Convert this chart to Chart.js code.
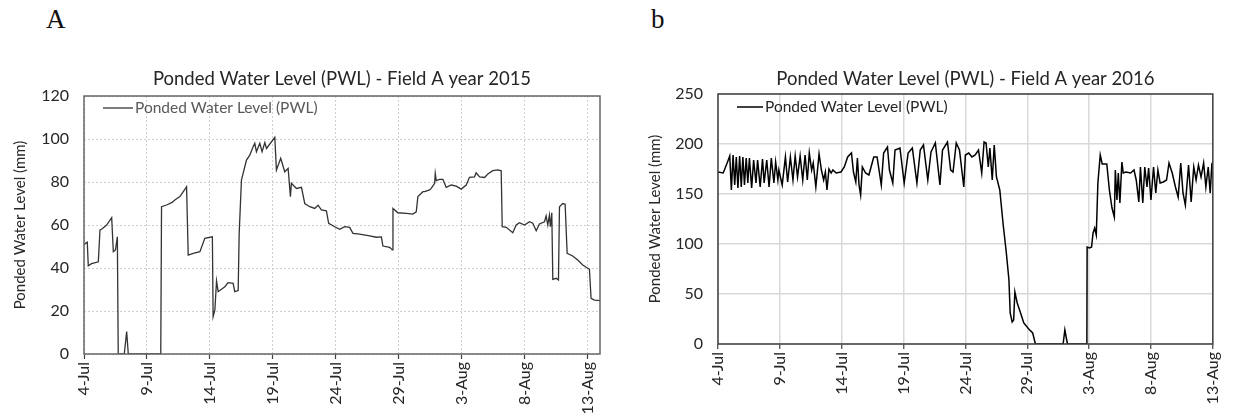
<!DOCTYPE html>
<html>
<head>
<meta charset="utf-8">
<script src="https://cdn.jsdelivr.net/npm/chart.js@4.4.1/dist/chart.umd.min.js"></script>
<style>
  body { margin: 0; background: #fff; width: 1235px; height: 416px; overflow: hidden; position: relative; }
  .panel { position: absolute; }
  .tag { position: absolute; font-family: "Liberation Serif", serif; font-size: 27px; color: #111; }
</style>
</head>
<body>
<div class="tag" style="left:46px; top:4px;">A</div>
<div class="tag" style="left:651px; top:4px;">b</div>
<div class="panel" style="left:0px; top:60px; width:615px; height:356px;"><canvas id="chart2015"></canvas></div>
<div class="panel" style="left:620px; top:58px; width:615px; height:358px;"><canvas id="chart2016"></canvas></div>
<script>
// x = days since 4-Jul, ticks every 5 days
const dayTicks = ['4-Jul', '9-Jul', '14-Jul', '19-Jul', '24-Jul', '29-Jul', '3-Aug', '8-Aug', '13-Aug'];
const seriesLabel = 'Ponded Water Level (PWL)';

// Field A 2015
const day2015 = [0, 0.26, 0.34, 0.6, 1.14, 1.27, 1.4, 1.8, 2.2, 2.33, 2.5, 2.65, 2.72, 3.2, 3.39, 3.52, 6.1, 6.16,
  6.56, 7.0, 7.22, 7.62, 8.0, 8.15, 8.28, 8.68, 9.21, 9.6, 10.2, 10.26, 10.4, 10.53, 10.66, 11.19, 11.45, 11.85,
  11.98, 12.25, 12.33, 12.51, 12.91, 13.17, 13.44, 13.57, 13.7, 13.97, 14.15, 14.37, 14.5, 15.16, 15.29, 15.63,
  15.95, 16.22, 16.4, 16.48, 16.88, 17.28, 17.54, 17.94, 18.33, 18.6, 18.86, 19.26, 19.44, 19.92, 20.32, 20.71,
  21.11, 21.37, 21.9, 22.7, 23.23, 23.63, 23.75, 24.29, 24.5, 24.55, 24.94, 25.61, 26.13, 26.4, 26.53, 26.93,
  27.06, 27.46, 27.59, 27.86, 27.91, 27.99, 28.25, 28.52, 28.78, 29.18, 29.58, 29.97, 30.37, 30.63, 31.03, 31.16,
  31.43, 31.83, 32.09, 32.48, 32.88, 33.15, 33.23, 33.55, 34.07, 34.34, 34.6, 35.0, 35.4, 35.66, 35.93, 36.19,
  36.59, 36.72, 36.85, 36.98, 37.06, 37.17, 37.25, 37.52, 37.7, 37.78, 38.04, 38.23, 38.39, 38.83, 39.23, 39.63,
  40.16, 40.29, 40.56, 41];
const level2015 = [51, 52, 41, 42, 42.9, 57.7, 58, 60, 63.4, 47.6, 48.4, 54.5, 0, 0, 10.4, 0, 0, 68.5,
  69.3, 70.5, 71.6, 73.2, 76.5, 77.8, 46, 46.8, 47.6, 53.8, 54.5, 17.4, 20.5, 34, 29, 31.3, 33.2, 32.9,
  29, 29.5, 56.1, 80.9, 90.2, 92.5, 96.4, 98, 94.1, 98, 94.1, 98.3, 95.6, 100.8, 85.6, 91,
  84.8, 86.3, 73.2, 79.4, 77, 77.5, 70, 68.5, 67.7, 69.2, 67, 66.6, 60.8, 59.2, 58, 59.2,
  58.9, 56.1, 55.8, 54.9, 54.3, 54.5, 50.2, 49.6, 48.4, 67.7, 65.7, 65.4, 65.1, 66.1, 73.2, 75.5,
  75.5, 76.3, 77, 79.4, 84, 80.6, 81.2, 81.2, 77.5, 78.6, 78.1, 76.7, 78.6, 82.2, 82.4, 84.3,
  82.4, 82.1, 83.7, 85.3, 85.6, 85.2, 59.2, 58.9, 56.4, 60, 61.1, 60, 61.5, 60.8, 57.3, 60.5,
  61.5, 64.2, 60, 64.6, 59.2, 65.7, 34.7, 35.2, 34.4, 68.5, 70, 69.7, 46.8, 45.6, 43.7, 41.4,
  39.4, 25.9, 25.1, 24.8];

// Field A 2016
const day2016 = [0, 0.42, 0.77, 0.95, 1.08, 1.22, 1.35, 1.48, 1.61, 1.75, 1.88, 2.01, 2.14, 2.28, 2.41, 2.54, 2.72,
  2.88, 3.07, 3.2, 3.41, 3.6, 3.73, 3.94, 4.13, 4.31, 4.52, 4.66, 4.84, 4.92, 5.19, 5.45, 5.63, 5.85, 6.06, 6.24,
  6.43, 6.64, 6.85, 7.04, 7.22, 7.38, 7.57, 7.7, 7.91, 8.17, 8.36, 8.54, 8.68, 8.81, 8.97, 9.15, 9.29, 9.55, 9.94,
  10.21, 10.48, 10.79, 10.95, 11.14, 11.27, 11.4, 11.53, 11.67, 11.93, 12.2, 12.59, 12.86, 13.2, 13.39, 13.7,
  13.86, 14.13, 14.31, 14.71, 15.05, 15.37, 15.71, 16.08, 16.35, 16.61, 16.96, 17.22, 17.57, 17.94, 18.15, 18.55,
  18.81, 19.0, 19.26, 19.52, 19.87, 20.0, 20.27, 20.53, 20.79, 21.06, 21.32, 21.51, 21.67, 21.85, 21.98, 22.17,
  22.33, 22.51, 22.78, 23.04, 23.31, 23.52, 23.62, 23.78, 23.9, 24.0, 24.19, 24.46, 24.72, 25.12, 25.44, 25.66,
  27.9, 28.04, 28.25, 29.82, 29.84, 30.05, 30.2, 30.32, 30.45, 30.58, 30.71, 30.9, 31.06, 31.43, 31.64, 31.85,
  32.04, 32.12, 32.25, 32.36, 32.49, 32.65, 32.76, 32.97, 33.36, 33.63, 33.81, 34.02, 34.15, 34.34, 34.5, 34.68,
  34.81, 35.0, 35.21, 35.39, 35.56, 35.74, 36.0, 36.26, 36.46, 36.72, 36.98, 37.2, 37.41, 37.59, 37.78, 38.04,
  38.25, 38.46, 38.65, 38.84, 39.05, 39.26, 39.44, 39.63, 39.79, 39.92, 40];
const level2016 = [172, 171, 182, 188, 154, 189, 159, 187, 156, 188, 157, 187, 159, 186, 161, 186, 156,
  184, 161, 184, 157, 185, 161, 184, 157, 186, 161, 182, 164, 174, 159, 187, 162, 187, 164, 188,
  167, 188, 164, 189, 164, 191, 174, 181, 157, 190, 174, 164, 172, 154, 175, 171, 174, 171, 172,
  177, 187, 191, 172, 162, 186, 159, 149, 177, 171, 169, 187, 187, 159, 191, 197,
  174, 161, 194, 196, 161, 191, 196, 161, 194, 199, 164, 192, 201, 159, 194, 202,
  174, 172, 201, 194, 157, 189, 191, 187, 189, 194, 171, 202, 201, 177, 196, 164,
  199, 167, 154, 121, 91, 64, 31, 22, 24, 52, 41, 31, 21, 15, 11, 0,
  0, 14, 0, 0, 97, 96, 97, 111, 116, 109, 161, 189, 180, 180, 154, 136,
  127, 174, 144, 171, 141, 182, 171, 172, 171, 174, 164, 142, 177, 141, 177, 157,
  176, 144, 177, 151, 174, 161, 162, 164, 181, 171, 157, 147, 181, 151, 139, 179,
  142, 177, 164, 179, 167, 181, 157, 177, 151, 179, 177];

const FONT = 'Lato';

// frame around the plot + legend drawn inside the plot
const framePlugin = {
  id: 'frame',
  afterDatasetsDraw(chart, args, opts) {
    const a = chart.chartArea;
    const c = chart.ctx;
    c.save();
    c.strokeStyle = opts.color;
    c.lineWidth = opts.width;
    c.strokeRect(a.left, a.top, a.right - a.left, a.bottom - a.top);
    // legend
    const ds = chart.data.datasets[0];
    const y = a.top + opts.legendDy;
    c.strokeStyle = ds.borderColor;
    c.lineWidth = ds.borderWidth;
    c.beginPath();
    c.moveTo(a.left + opts.legendX0, y);
    c.lineTo(a.left + opts.legendX1, y);
    c.stroke();
    c.fillStyle = opts.legendColor;
    c.font = '15.5px ' + FONT;
    c.textBaseline = 'middle';
    c.fillText(ds.label, a.left + opts.legendX1 + 2, y);
    c.restore();
  }
};

function makeChart(id, cfg) {
  return new Chart(document.getElementById(id), {
    type: 'line',
    data: {
      datasets: [{
        label: seriesLabel,
        data: cfg.days.map((d, i) => ({ x: d, y: cfg.levels[i] })),
        borderColor: cfg.lineColor,
        borderWidth: cfg.lineWidth,
        pointRadius: 0,
        tension: 0,
        fill: false
      }]
    },
    options: {
      responsive: true,
      maintainAspectRatio: false,
      animation: false,
      layout: { padding: { left: 0, right: cfg.padRight, top: 0, bottom: 0 } },
      plugins: {
        legend: { display: false },
        tooltip: { enabled: false },
        title: {
          display: true,
          text: cfg.title,
          fullSize: false,
          color: '#262626',
          font: { family: FONT, size: 18.5, weight: 'normal' },
          padding: { top: cfg.titleTop, bottom: 36 - 22.2 - cfg.titleTop }
        },
        frame: cfg.frame
      },
      scales: {
        x: {
          type: 'linear',
          min: 0,
          max: cfg.xMax,
          afterFit: (s) => { s.height = cfg.xHeight; },
          grid: { color: cfg.gridColor, lineWidth: cfg.gridWidth, tickLength: 5, tickColor: '#404040', tickWidth: 1.2 },
          border: { display: false, dash: cfg.gridDash },
          ticks: {
            stepSize: 5,
            includeBounds: false,
            minRotation: 90,
            maxRotation: 90,
            padding: 3,
            color: '#262626',
            font: { family: FONT, size: 16 },
            callback: (v) => (v % 5 === 0 ? dayTicks[v / 5] : '')
          }
        },
        y: {
          min: 0,
          max: cfg.yMax,
          afterFit: (s) => { s.width = cfg.yWidth; },
          grid: { color: cfg.gridColor, lineWidth: cfg.gridWidth, drawTicks: false },
          border: { display: false, dash: cfg.gridDash },
          title: {
            display: true,
            text: 'Ponded Water Level (mm)',
            color: '#262626',
            font: { family: FONT, size: 15 },
            padding: { top: cfg.yTitlePad, bottom: 0 }
          },
          ticks: {
            stepSize: cfg.yStep,
            padding: 15,
            color: '#262626',
            font: { family: FONT, size: 16 }
          }
        }
      }
    },
    plugins: [framePlugin]
  });
}

makeChart('chart2015', {
  days: day2015, levels: level2015,
  title: 'Ponded Water Level (PWL) - Field A year 2015',
  xMax: 41, yMax: 120, yStep: 20,
  yWidth: 84, xHeight: 62, padRight: 15, titleTop: 8, yTitlePad: 11,
  lineColor: '#333333', lineWidth: 1.3,
  gridColor: '#cfcfcf', gridWidth: 1, gridDash: [2, 2],
  frame: { color: '#666666', width: 1.5, legendDy: 12, legendX0: 19, legendX1: 49, legendColor: '#595959' }
});

makeChart('chart2016', {
  days: day2016, levels: level2016,
  title: 'Ponded Water Level (PWL) - Field A year 2016',
  xMax: 40, yMax: 250, yStep: 50,
  yWidth: 98, xHeight: 72, padRight: 13, titleTop: 10, yTitlePad: 26,
  lineColor: '#000000', lineWidth: 1.5,
  gridColor: '#d9d9d9', gridWidth: 1.5, gridDash: [],
  frame: { color: '#404040', width: 1.5, legendDy: 13, legendX0: 19, legendX1: 45, legendColor: '#262626' }
});
</script>
</body>
</html>
